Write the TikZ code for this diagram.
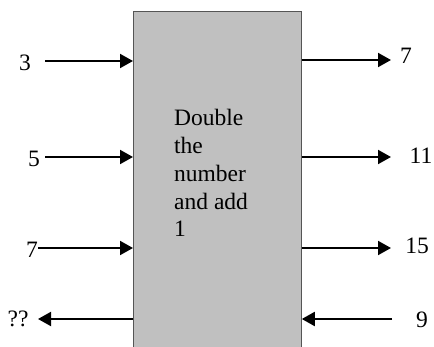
\documentclass[tikz,border=0pt]{standalone}
\usepackage{fontspec}
\setmainfont{Liberation Serif}
\usetikzlibrary{arrows.meta}
\definecolor{boxfill}{HTML}{C0C0C0}
\definecolor{boxline}{HTML}{555555}
\begin{document}
\begin{tikzpicture}[x=1pt,y=-1pt,
  lbl/.style={inner sep=0pt,font=\fontsize{23.5}{27.8}\selectfont},
  arr/.style={line width=2pt,-{Triangle[length=13pt,width=14pt]}},
  procbox/.style={rectangle,fill=boxfill,draw=boxline,line width=0.8pt,anchor=north west,minimum width=168pt,minimum height=345pt,inner sep=0pt}]
\clip (0,0) rectangle (434,347);
\node[procbox] (box) at (133,11) {};
\node[lbl,align=left,anchor=base west] (txt) at (174,237) {Double\\the\\number\\and add\\1};
% inputs left
\node[lbl] (l1) at (25,63) {3};
\node[lbl] (l2) at (34,159) {5};
\node[lbl] (l3) at (32,250) {7};
\node[lbl] (l4) at (18,319) {??};
% outputs right
\node[lbl] (r1) at (406,56) {7};
\node[lbl] (r2) at (421,156) {11};
\node[lbl] (r3) at (417,246) {15};
\node[lbl] (r4) at (422,320) {9};
\coordinate (a1) at (45,61);
\coordinate (a2) at (45,157);
\coordinate (a3) at (38,248);
\coordinate (a4) at (38,319);
\coordinate (b1) at (391,60);
\coordinate (b2) at (391,157);
\coordinate (b3) at (391,248);
\coordinate (b4) at (392,319);
\draw[arr] (a1) -- (a1 -| box.west);
\draw[arr] (a2) -- (a2 -| box.west);
\draw[arr] (a3) -- (a3 -| box.west);
\draw[arr] (a4 -| box.west) -- (a4);
\draw[arr] (b1 -| box.east) -- (b1);
\draw[arr] (b2 -| box.east) -- (b2);
\draw[arr] (b3 -| box.east) -- (b3);
\draw[arr] (b4) -- (b4 -| box.east);
\end{tikzpicture}
\end{document}
